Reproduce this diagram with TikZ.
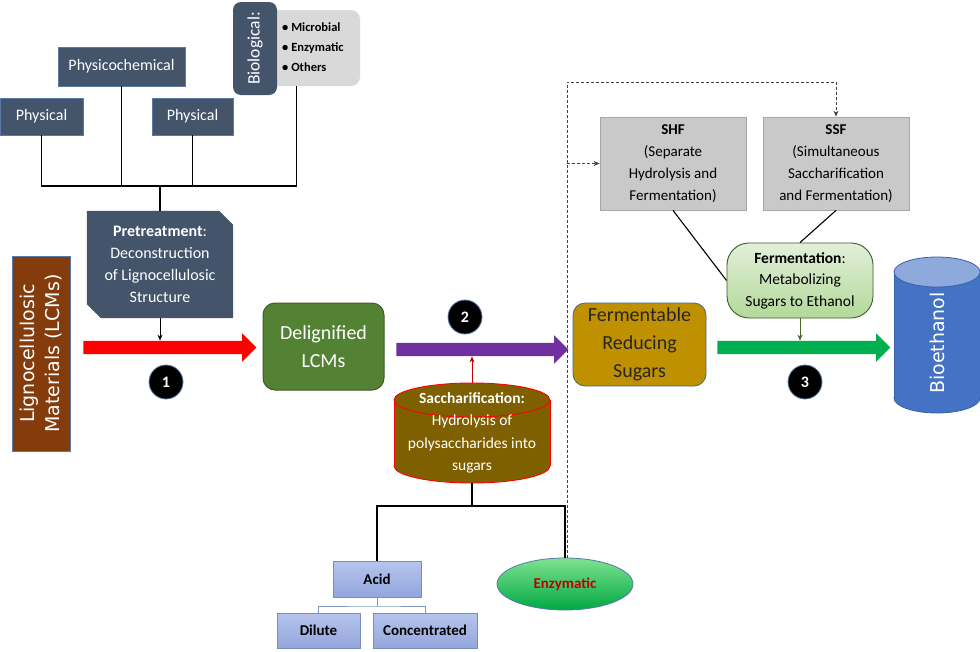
\documentclass[tikz,border=0pt]{standalone}
\usepackage{fontspec}
\setmainfont{Carlito}
\newfontfamily\widesans{DejaVu Sans}
\usetikzlibrary{shapes.arrows,shapes.geometric,backgrounds,calc,arrows.meta}
\definecolor{slate}{HTML}{44546A}
\definecolor{slateedge}{HTML}{5B79A8}
\definecolor{lgray}{HTML}{D9D9D9}
\definecolor{lcmbrown}{HTML}{843C0C}
\definecolor{dgreen}{HTML}{548235}
\definecolor{dgreenedge}{HTML}{3B5E24}
\definecolor{parrow}{HTML}{7030A0}
\definecolor{olivebox}{HTML}{7F6000}
\definecolor{goldbox}{HTML}{BF9000}
\definecolor{goldedge}{HTML}{41679E}
\definecolor{garrow}{HTML}{00B050}
\definecolor{ethblue}{HTML}{4472C4}
\definecolor{ethtop}{HTML}{8EA9DB}
\definecolor{ethedge}{HTML}{3A62A8}
\definecolor{shfgray}{HTML}{C9C9C9}
\definecolor{shfedge}{HTML}{A6A6A6}
\definecolor{fermtop}{HTML}{E2F0D9}
\definecolor{fermbot}{HTML}{B3D89A}
\definecolor{fermedge}{HTML}{3B5E24}
\definecolor{acidtop}{HTML}{B7C4EE}
\definecolor{acidbot}{HTML}{92A6DC}
\definecolor{acidedge}{HTML}{7E8DB5}
\definecolor{enztop}{HTML}{7EE38F}
\definecolor{enzbot}{HTML}{00A844}
\definecolor{enzred}{HTML}{C00000}
\definecolor{treeblue}{HTML}{7F96C0}
\tikzset{
  slatebox/.style={draw=slateedge, line width=0.8pt, fill=slate, text=white,
    font=\fontsize{16}{19}\selectfont, inner sep=0pt},
  bigarrow/.style={single arrow, draw=none, inner xsep=0pt, inner ysep=6.5pt,
    text height=0pt, text depth=0pt, single arrow head extend=7.5pt},
  numdot/.style={circle, fill=black, draw=slateedge, line width=0.8pt,
    minimum size=34pt, inner sep=0pt, text=white,
    font=\fontsize{16}{16}\selectfont\bfseries},
  link/.style={line width=1.3pt, black},
  dotlink/.style={line width=1pt, dash pattern=on 3pt off 2pt, black!75},
  graybox/.style={fill=shfgray, draw=shfedge, line width=0.8pt,
    minimum width=146pt, minimum height=93pt, inner sep=0pt, align=center,
    font=\fontsize{15}{22}\selectfont},
  acidbox/.style={top color=acidtop, bottom color=acidbot, draw=acidedge,
    line width=0.8pt, inner sep=0pt, font=\fontsize{15}{18}\selectfont\bfseries},
  tip/.style={-{Stealth[length=6pt,width=5pt]}, line width=0.9pt}
}
\begin{document}
\begin{tikzpicture}[x=1pt,y=-1pt]
\useasboundingbox (0,0) rectangle (980,651);

% ---- pretreatment categories
\node[slatebox, minimum width=83pt, minimum height=37pt] (phys1) at (41.5,116.5) {Physical};
\node[slatebox, minimum width=127pt, minimum height=39pt] (physchem) at (121.5,66.5) {Physicochemical};
\node[slatebox, minimum width=81pt, minimum height=37pt] (phys2) at (192.5,116.5) {Physical};
\node[fill=lgray, rounded corners=9pt, minimum width=95pt, minimum height=76pt] (biolist) at (312.5,48) {};
\node[fill=slate, rounded corners=8pt, minimum width=93pt, minimum height=44pt, rotate=90,
      text=white, font=\fontsize{17.5}{19}\selectfont] (bio) at (255,48.5) {Biological:};
\node[anchor=west, align=left, inner sep=0pt, font=\fontsize{12.5}{20}\selectfont\bfseries]
      (biotext) at (282,47) {• Microbial\\• Enzymatic\\• Others};

\coordinate (bus) at (160,186);
\coordinate (biotap) at ($(biolist.south west)!0.33!(biolist.south east)$);
\draw[link] (phys1.south) |- (bus) -| (biotap);
\draw[link] (physchem.south) -- (physchem.south |- bus);
\draw[link] (phys2.south) -- (phys2.south |- bus);

% ---- pretreatment
\node[text=white, align=center, minimum width=146pt, minimum height=107pt, inner sep=0pt,
      font=\fontsize{16}{22}\selectfont] (pre) at (160,264.5)
      {\textbf{Pretreatment}:\\Deconstruction\\of Lignocellulosic\\Structure};
\begin{scope}[on background layer]
\fill[slate] (pre.north west) -- ([xshift=-14pt]pre.north east) -- ([yshift=-14pt]pre.north east)
  -- (pre.south east) -- ([xshift=14pt]pre.south west) -- ([yshift=14pt]pre.south west) -- cycle;
\end{scope}
\draw[link] (bus) -- (pre.north);

% ---- LCMs
\node[fill=lcmbrown, draw=slateedge, line width=0.6pt, rotate=90, minimum width=195pt, minimum height=58pt,
      inner sep=0pt, text=white, align=center, font=\widesans\fontsize{19}{25}\selectfont] (lcm) at (41,353.5)
      {Lignocellulosic\\Materials (LCMs)};

% ---- arrow 1
\node[bigarrow, fill=red, minimum height=173pt] (a1) at (166.5,347.5) {};
\draw[tip] (pre.south) -- (pre.south |- a1.north);
\node[numdot] (n1) at (166,382) {1};

% ---- delignified
\node[fill=dgreen, draw=dgreenedge, line width=1pt, rounded corners=12pt, minimum width=121pt,
      minimum height=87pt, inner sep=0pt, text=white, align=center,
      font=\fontsize{20}{28}\selectfont] (delig) at (323.5,346.5) {Delignified\\LCMs};

% ---- arrow 2 and saccharification
\node[bigarrow, fill=parrow, minimum height=172pt] (a2) at (479,349.5) {};
\node[numdot] (n2) at (465,317) {2};
\node[minimum width=156pt, minimum height=100pt, inner sep=0pt, text=white, align=center,
      font=\fontsize{15.5}{22.5}\selectfont] (sacc) at (472,433)
      {\textbf{Saccharification:}\\Hydrolysis of\\polysaccharides into\\sugars};
\begin{scope}[on background layer]
\filldraw[fill=olivebox, draw=red, line width=0.9pt] (472,466) ellipse [x radius=78pt, y radius=17pt];
\fill[olivebox] (394,400) rectangle (550,466);
\draw[red, line width=0.9pt] (394,400) -- (394,466) (550,400) -- (550,466);
\filldraw[fill=olivebox, draw=red, line width=0.9pt] (472,400) ellipse [x radius=78pt, y radius=17pt];
\end{scope}
\draw[tip, color=enzred] (sacc.north) -- (sacc.north |- a2.south);

% ---- hydrolysis types
\node[acidbox, minimum width=88pt, minimum height=36pt] (acid) at (377,579) {Acid};
\node[acidbox, minimum width=83pt, minimum height=35pt] (dil) at (318.5,630.5) {Dilute};
\node[acidbox, minimum width=104pt, minimum height=35pt] (conc) at (425,630.5) {Concentrated};
\node[ellipse, minimum width=136pt, minimum height=52pt, inner sep=0pt, top color=enztop,
      bottom color=enzbot, draw=slateedge, line width=0.8pt, text=enzred,
      font=\fontsize{15}{18}\selectfont\bfseries] (enz) at (565,584) {Enzymatic};
\coordinate (split2) at (472,506);
\draw[link] (sacc.south) -- (split2);
\draw[link] (acid.north) |- (split2) -| (enz.north);
\coordinate (split3) at (377,606);
\draw[treeblue, line width=1pt] (acid.south) -- (split3);
\draw[treeblue, line width=1pt] (dil.north) |- (split3) -| (conc.north);

% ---- fermentable sugars
\node[fill=goldbox, draw=goldedge, line width=0.8pt, rounded corners=12pt, minimum width=133pt,
      minimum height=83pt, inner sep=0pt, align=center, text=black!85,
      font=\fontsize{20}{28}\selectfont] (ferms) at (639.5,344.5) {Fermentable\\Reducing\\Sugars};

% ---- SHF / SSF
\node[graybox] (shf) at (673,163.5) {\textbf{SHF}\\(Separate\\Hydrolysis and\\Fermentation)};
\node[graybox] (ssf) at (836,163.5) {\textbf{SSF}\\(Simultaneous\\Saccharification\\and Fermentation)};

% ---- dotted route from enzymatic
\coordinate (dx) at ([xshift=2pt]enz.north);
\coordinate (dcorner) at (ssf.north |- 0,82);
\draw[dotlink, -{Stealth[length=6pt,width=5pt]}] (dx) |- (dcorner) -- (ssf.north);
\draw[dotlink, -{Stealth[length=6pt,width=5pt]}] (dx |- shf.west) -- (shf.west);

% ---- fermentation
\node[top color=fermtop, bottom color=fermbot, draw=fermedge, line width=0.9pt, rounded corners=22pt,
      minimum width=146pt, minimum height=75pt, inner sep=0pt, align=center,
      font=\fontsize{15.5}{21.5}\selectfont] (ferm) at (800,280.5)
      {\textbf{Fermentation}:\\Metabolizing\\Sugars to Ethanol};
\draw[line width=1.1pt] (shf.south) -- (ferm.west);
\draw[line width=1.1pt] (ssf.south) -- (ferm.north);

% ---- arrow 3
\node[bigarrow, fill=garrow, minimum height=173pt] (a3) at (800.5,347.5) {};
\draw[tip, color=dgreen!80!black] (ferm.south) -- (ferm.south |- a3.north);
\node[numdot] (n3) at (805,382) {3};

% ---- bioethanol
\node[minimum width=86pt, minimum height=156pt, inner sep=0pt] (bioeth) at (937,335) {};
\begin{scope}[on background layer]
\filldraw[fill=ethblue, draw=ethedge, line width=0.8pt] (937,398) ellipse [x radius=43pt, y radius=15pt];
\fill[ethblue] (894,272) rectangle (980,398);
\draw[ethedge, line width=0.8pt] (894,272) -- (894,398) (980,272) -- (980,398);
\filldraw[fill=ethtop, draw=ethedge, line width=0.8pt] (937,272) ellipse [x radius=43pt, y radius=15pt];
\end{scope}
\node[rotate=90, text=white, font=\widesans\fontsize{19}{24}\selectfont] (ethlabel) at (937,343) {Bioethanol};
\end{tikzpicture}
\end{document}
